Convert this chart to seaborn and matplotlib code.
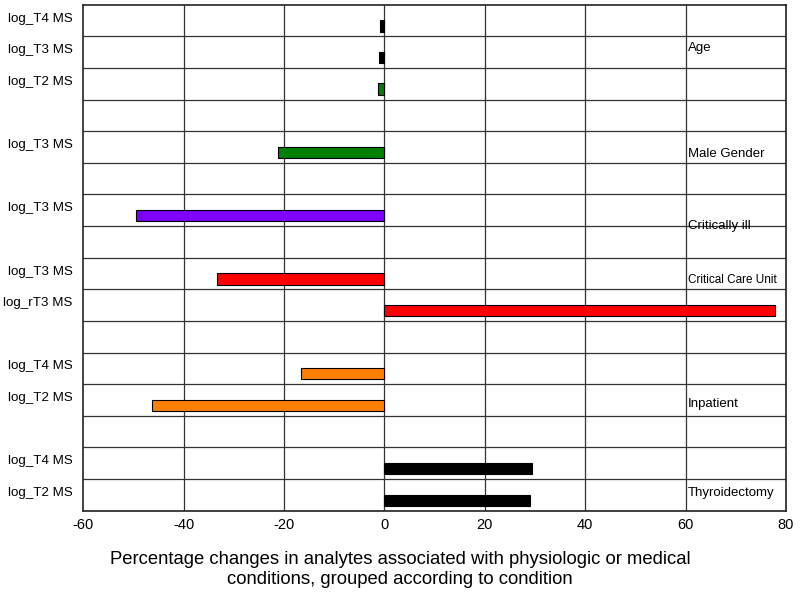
import numpy as np
import pandas as pd
import matplotlib
matplotlib.use("Agg")
import matplotlib.pyplot as plt
import seaborn as sns
from matplotlib.ticker import MultipleLocator

# rows of the chart, top to bottom (blank rows have no bar)
rows = [0, 1, 2, 4, 6, 8, 9, 11, 12, 14, 15]
labels = ["log_T4 MS", "log_T3 MS", "log_T2 MS", "log_T3 MS", "log_T3 MS",
          "log_T3 MS", "log_rT3 MS", "log_T4 MS", "log_T2 MS", "log_T4 MS", "log_T2 MS"]
values = [-0.8, -1.0, -1.2, -21.1, -49.4, -33.3, 77.8, -16.7, -46.3, 29.5, 29.1]
colors = ["#000000", "#000000", "#007f00", "#007f00", "#7f00ff",
          "#ff0000", "#ff0000", "#ff7f00", "#ff7f00", "#000000", "#000000"]

groups = ["Age", "Male Gender", "Critically ill", "Critical Care Unit", "Inpatient", "Thyroidectomy"]
group_y = [0.69, 4.06, 6.32, 8.02, 11.94, 14.77]
group_size = [9.5, 9.5, 9.5, 8.5, 9.5, 9.5]

n_rows = 16

sns.set_style("white")
plt.rcParams['font.family'] = ['Liberation Sans', 'DejaVu Sans']
plt.rcParams['axes.unicode_minus'] = False
plt.rcParams['text.color'] = 'black'
plt.rcParams['axes.labelcolor'] = 'black'
plt.rcParams['xtick.color'] = 'black'
plt.rcParams['ytick.color'] = 'black'

df = pd.DataFrame({"row": rows, "value": values, "bar": [str(i) for i in range(len(rows))]})
pal = {str(i): c for i, c in enumerate(colors)}

fig = plt.figure(figsize=(8, 5.92), dpi=100)
ax = fig.add_axes([0.104, 0.1373, 0.8785, 0.8547])

sns.barplot(data=df, x="value", y="row", hue="bar", palette=pal, orient="h",
            native_scale=True, dodge=False, width=0.36, edgecolor="black",
            linewidth=0.8, legend=False, saturation=1, ax=ax, zorder=3)

ax.set_xlim(-60, 80)
ax.set_ylim(n_rows - 0.67, -0.67)

# grid
ax.set_xticks(np.arange(-60, 81, 20))
ax.xaxis.set_minor_locator(MultipleLocator(5))
for x in np.arange(-40, 80, 20):
    ax.axvline(x, color="#333333", lw=0.9, zorder=1)
for y in np.arange(n_rows) + 0.33:
    ax.axhline(y, color="#333333", lw=0.9, zorder=1)

ax.set_yticks(np.array(rows) - 0.28)
ax.set_yticklabels(labels, fontsize=9.6)
ax.tick_params(axis="y", length=0, pad=7.5)
ax.tick_params(axis="x", which="major", length=0, pad=5, labelsize=10.5)
ax.tick_params(axis="x", which="minor", direction="in", length=3, color="#aaaaaa")

for g, gy, fs in zip(groups, group_y, group_size):
    ax.text(60.5, gy, g, fontsize=fs, va="center", ha="left", zorder=4)

for s in ax.spines.values():
    s.set_color("#222222")
    s.set_linewidth(1.2)

ax.set_ylabel("")
ax.set_xlabel("Percentage changes in analytes associated with physiologic or medical\n"
              "conditions, grouped according to condition", fontsize=13.3,
              linespacing=1.2)
ax.xaxis.set_label_coords(0.451, -0.080, transform=ax.transAxes)
ax.xaxis.label.set_va("top")

fig.savefig("out.png", dpi=100)
